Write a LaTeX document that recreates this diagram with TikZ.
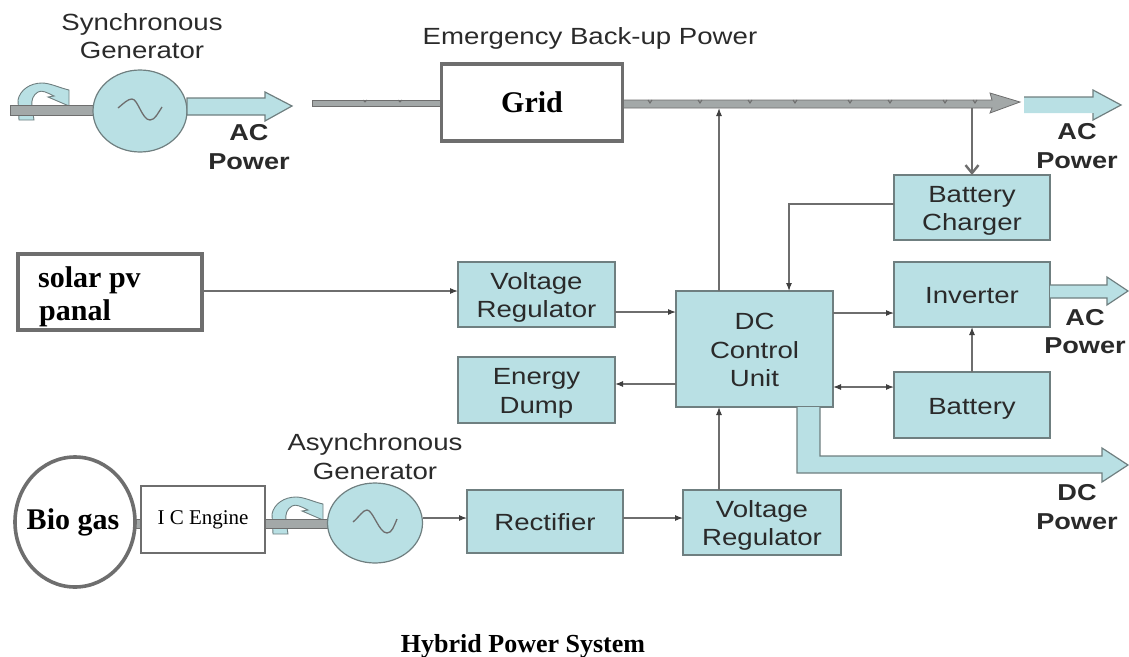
\documentclass[tikz,border=0pt]{standalone}
\usepackage{fontspec}
\usetikzlibrary{arrows.meta,calc,shapes.geometric}
\setmainfont{Liberation Serif}
\newfontfamily\labfont[FakeStretch=1.18]{Liberation Sans}
\definecolor{tealfill}{HTML}{B9E0E4}
\definecolor{edgegray}{HTML}{6F7F80}
\definecolor{shaftgray}{HTML}{A3A8A8}
\definecolor{linegray}{HTML}{6E6E6E}
\definecolor{labtext}{HTML}{2A2A2A}
\newcommand\ut[1]{\raisebox{-3.5pt}[\height][\depth]{\begin{tabular}{@{}c@{}}#1\end{tabular}}}
\tikzset{
  unitbox/.style={draw=edgegray,line width=1.6pt,fill=tealfill,inner sep=0pt,outer sep=0pt,align=center,text=labtext,font=\labfont\fontsize{23.4}{28.5}\selectfont},
  genoval/.style={ellipse,draw=edgegray,line width=1.2pt,fill=tealfill,inner sep=0pt,outer sep=0pt},
  srcbox/.style={draw=linegray,line width=3.6pt,fill=white,inner sep=0pt,outer sep=0pt},
  serifbold/.style={font=\bfseries\fontsize{30}{33}\selectfont,inner sep=0pt},
  lab/.style={inner sep=0pt,align=center,text=labtext,font=\labfont\fontsize{23.4}{28.5}\selectfont},
  boldlab/.style={inner sep=0pt,align=center,text=labtext,font=\labfont\bfseries\fontsize{23}{28.5}\selectfont},
  thin link/.style={draw=linegray,line width=1.1pt,-{Latex[length=8pt,width=6pt,black!75]}},
  fat/.style={draw=edgegray,line width=1.2pt,fill=tealfill,line join=miter},
  mainbar/.style={draw=linegray,line width=0.8pt,fill=shaftgray},
  shaft/.style={fill=shaftgray,draw=linegray,line width=0.5pt},
  sinewave/.style={draw=linegray,line width=1.3pt,line join=round},
  spin/.pic={\path[fat,line width=0.9pt] (19,120) -- (18,100) .. controls (20,90) and (30,83) .. (42,83) .. controls (50,83) and (60,88) .. (69,90) -- (69,106) -- (48,97) -- (54,96) .. controls (46,92) and (42,90) .. (38,92) .. controls (33,95) and (31,100) .. (32,107) -- (34,120) -- cycle;},
}
\begin{document}
\begin{tikzpicture}[x=1pt,y=-1pt]
\useasboundingbox (0,0) rectangle (1129,656);

% shafts and rotation arrows
\pic at (0,0) {spin};
\path[shaft] (10,105) rectangle (94,115);
\pic at (254,414) {spin};
\path[shaft] (265,519) rectangle (329,528);
\path[shaft] (134,519) rectangle (142,528);

% generators
\node[genoval,minimum width=94pt,minimum height=82pt] (syn) at (140,111) {};
\node[genoval,minimum width=95pt,minimum height=80pt] (asy) at (375,523) {};
\draw[sinewave] (118,108) .. controls (124,103) and (128,99) .. (132,99) .. controls (138,99) and (142,120) .. (150,120) .. controls (155,120) and (158,113) .. (162,107);
\draw[sinewave] (353,522) .. controls (359,517) and (363,510) .. (367,510) .. controls (373,510) and (379,533) .. (387,533) .. controls (392,533) and (394,526) .. (397,519);

% sources
\node[srcbox,minimum width=124pt,minimum height=67pt,line width=1.6pt,font=\fontsize{21}{24}\selectfont] (eng) at (203,519.5) {I C Engine};
\node[srcbox,ellipse,minimum width=120pt,minimum height=130pt] (bio) at (75,522) {};
\node[serifbold] (biotext) at (73,522) {Bio gas};
\node[srcbox,minimum width=184pt,minimum height=76pt] (solar) at (110,292) {};
\node[serifbold,anchor=west] (solar1) at (38,280) {solar pv};
\node[serifbold,anchor=west] (solar2) at (39,313) {panal};

% main bus
\coordinate (busM) at (719,104);
\coordinate (busC) at (972,108);
\path[mainbar] (312,100) rectangle (442,106);
\path[mainbar] (622,100) -- (992,100) -- (990,93) -- (1020,102) -- (990,113) -- (992,108) -- (622,108) -- cycle;
\foreach \tx in {650,700,750,795,850,890,945,975}
  \draw[linegray,line width=1pt] (\tx-2,100) -- (\tx,103) -- (\tx+2,100);
\foreach \tx in {365,400}
  \draw[linegray,line width=1pt] (\tx-2,100) -- (\tx,102) -- (\tx+2,100);

\node[srcbox,minimum width=181pt,minimum height=77pt] (grid) at (532,102.5) {};
\node[serifbold] (gridtext) at (532,102) {Grid};

% units
\node[unitbox,minimum width=156pt,minimum height=65pt] (charger) at (972,207.5) {\ut{Battery\\Charger}};
\node[unitbox,minimum width=156pt,minimum height=65pt] (inv) at (972,294.5) {\ut{Inverter}};
\node[unitbox,minimum width=156pt,minimum height=66pt] (batt) at (972,405) {\ut{Battery}};
\node[unitbox,minimum width=157pt,minimum height=116pt] (dc) at (754.5,349) {\ut{DC\\Control\\Unit}};
\node[unitbox,minimum width=157pt,minimum height=65pt] (vr1) at (536.5,294.5) {\ut{Voltage\\Regulator}};
\node[unitbox,minimum width=157pt,minimum height=66pt] (dump) at (536.5,390) {\ut{Energy\\Dump}};
\node[unitbox,minimum width=156pt,minimum height=63pt] (rect) at (545,521.5) {\ut{Rectifier}};
\node[unitbox,minimum width=158pt,minimum height=65pt] (vr2) at (762,522.5) {\ut{Voltage\\Regulator}};

% fat output arrows
\path[fat] (187,98) -- (265,98) -- (265,92) -- (292,106) -- (265,121) -- (265,115) -- (187,115) -- cycle;
\path[fat,draw=none] (1024,97) -- (1093,97) -- (1093,90) -- (1121,105) -- (1093,120) -- (1093,113) -- (1024,113) -- cycle;
\draw[edgegray,line width=1.2pt] (1024,97) -- (1093,97) -- (1093,90) -- (1121,105) -- (1093,120) -- (1093,113);
\path[fat] (1050,285) -- (1107,285) -- (1107,277) -- (1128,291) -- (1107,305) -- (1107,298) -- (1050,298);
\path[fat] (797,407) -- (797,473) -- (1102,473) -- (1102,482) -- (1128,465) -- (1102,448) -- (1102,456) -- (820,456) -- (820,407);

% connectors
\draw[thin link] (solar.east |- 0,291) -- (vr1.west |- 0,291);
\draw[thin link] (vr1.east |- 0,312) -- (dc.west |- 0,312);
\draw[thin link] (dc.west |- 0,384) -- (dump.east |- 0,384);
\draw[thin link] (dc.east |- 0,313) -- (inv.west |- 0,313);
\draw[thin link,{Latex[length=8pt,width=6pt,black!75]}-{Latex[length=8pt,width=6pt,black!75]}] (dc.east |- 0,387) -- (batt.west |- 0,387);
\draw[thin link] (batt.north) -- (inv.south);
\draw[thin link] (charger.west |- 0,204) -- (789,204) -- (789,291);
\draw[thin link] (asy.east |- 0,518) -- (rect.west |- 0,518);
\draw[thin link] (rect.east |- 0,518) -- (vr2.west |- 0,518);
\draw[thin link] (busM |- vr2.north) -- (busM |- dc.south);
\draw[thin link] (busM |- dc.north) -- (719,108);
\draw[line width=2pt,linegray,-{Straight Barb[length=8pt,width=13pt,line width=2.4pt]}] (busC) -- (charger.north);

% labels
\node[lab] (t1) at (142,36) {Synchronous\\Generator};
\node[lab] (t2) at (590,38) {Emergency Back-up Power};
\node[lab] (t3) at (375,456.5) {Asynchronous\\Generator};
\node[boldlab] (t4) at (249,147) {AC\\Power};
\node[boldlab] (t5) at (1077,146) {AC\\Power};
\node[boldlab] (t6) at (1085,331.5) {AC\\Power};
\node[boldlab] (t7) at (1077,507) {DC\\Power};
\node[font=\bfseries\fontsize{26}{30}\selectfont,inner sep=0pt] (title) at (523,646) {Hybrid Power System};
\end{tikzpicture}
\end{document}
